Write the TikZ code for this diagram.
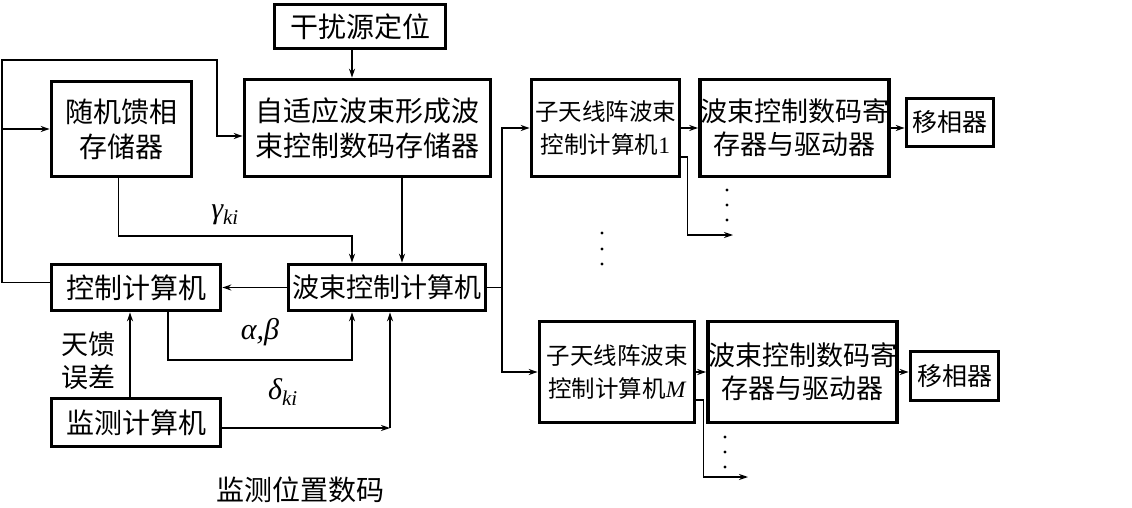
\documentclass[tikz,border=0pt]{standalone}
\usepackage{fontspec}
\usetikzlibrary{arrows.meta}
\setmainfont{Liberation Serif}
\newfontfamily\cjk{Noto Sans CJK SC}
\begin{document}
\begin{tikzpicture}[x=1pt,y=-1pt,>={Stealth[length=9pt,width=6pt,inset=3pt]},line width=1.3pt,
        blk/.style={draw,line width=3.6pt,inner sep=0pt,align=center,font=\cjk\fontsize{28}{35}\selectfont},
        lbl/.style={font=\rmfamily\itshape\fontsize{30}{34}\selectfont}]
    \useasboundingbox (0,0) rectangle (1132,508);
    % left part
    \node[blk,minimum width=171,minimum height=44] (jam) at (360,26.5) {干扰源定位};
    \node[blk,minimum width=140,minimum height=95] (rnd) at (121.5,129) {随机馈相\\存储器};
    \node[blk,minimum width=246,minimum height=97] (adp) at (367.5,128) {自适应波束形成波\\束控制数码存储器};
    \node[blk,minimum width=169,minimum height=46] (ctl) at (136,287.5) {控制计算机};
    \node[blk,minimum width=197,minimum height=46,font=\cjk\fontsize{27}{33}\selectfont] (bcc) at (387,287.5) {波束控制计算机};
    \node[blk,minimum width=169,minimum height=48] (mon) at (136,422.5) {监测计算机};
    % right part
    \node[blk,minimum width=148,minimum height=97,font=\cjk\fontsize{23.5}{33}\selectfont] (sub1) at (605.5,128) {子天线阵波束\\控制计算机{\rmfamily 1}};
    \node[blk,minimum width=172,minimum height=97,font=\cjk\fontsize{27}{33}\selectfont] (reg1) at (794.5,128) {波束控制数码寄\\存器与驱动器};
    \node[blk,minimum width=87,minimum height=48,font=\cjk\fontsize{25}{30}\selectfont] (ps1) at (950,122.5) {移相器};
    \node[blk,minimum width=155,minimum height=101,font=\cjk\fontsize{23.5}{33}\selectfont] (subM) at (617,372) {子天线阵波束\\控制计算机{\rmfamily\itshape M}};
    \node[blk,minimum width=176,minimum height=101,font=\cjk\fontsize{27}{33}\selectfont] (regM) at (802.5,372) {波束控制数码寄\\存器与驱动器};
    \node[blk,minimum width=88,minimum height=49,font=\cjk\fontsize{25}{30}\selectfont] (psM) at (954.5,376) {移相器};
    % labels
    \node[lbl] (gam) at (225,215) {γ\textsubscript{ki}};
    \node[lbl] (ab) at (260,332) {α,β};
    \node[lbl] (del) at (283,392) {δ\textsubscript{ki}};
    \node[font=\cjk\fontsize{27}{33}\selectfont,align=center] (err) at (88,361) {天馈\\误差};
    \node[font=\cjk\fontsize{28}{34}\selectfont] (pos) at (300,490) {监测位置数码};
    % corners
    \coordinate (lft) at (2,60);
    \coordinate (fb) at (217,60);
    \coordinate (xa) at (352,236);
    \coordinate (xb) at (402,0);
    \coordinate (ca) at (168,360);
    \coordinate (cb) at (352,360);
    \coordinate (tk) at (130,0);
    \coordinate (dk) at (390,428);
    \coordinate (sp) at (502,0);
    \coordinate (o1) at (733,235);
    \coordinate (oM) at (748,477);
    % connectors
    \draw[->] (jam.south -| xa) -- (adp.north -| xa);
    \draw[->] ([yshift=5pt]ctl.west) -| (lft) -- (fb) |- ([yshift=-8pt]adp.west);
    \draw[->] (lft |- rnd.west) -- (rnd.west);
    \draw[->] ([xshift=-3pt]rnd.south) |- (xa) -- (bcc.north -| xa);
    \draw[->] (adp.south -| xb) -- (bcc.north -| xb);
    \draw[->] (bcc.west) -- (ctl.east);
    \draw[->] (ctl.south -| ca) |- (cb) -- (bcc.south -| cb);
    \draw[->] (mon.north -| tk) -- (ctl.south -| tk);
    \draw[->] (mon.east |- dk) -- (dk);
    \draw[->] (dk) -- (bcc.south -| dk);
    \draw (bcc.east) -- (bcc.east -| sp);
    \draw[->] (bcc.east -| sp) |- (sub1.west);
    \draw[->] (bcc.east -| sp) |- (subM.west);
    \draw[->] (sub1.east) -- (reg1.west);
    \draw[->] (reg1.east) -- (reg1.east -| ps1.west);
    \draw[->] (subM.east) -- (regM.west);
    \draw[->] (regM.east) -- (regM.east -| psM.west);
    \draw[->] ([yshift=-29pt]sub1.east) -- ++(6,0) |- (o1);
    \draw[->] ([yshift=-28pt]subM.east) -- ++(7,0) |- (oM);
    % dots
    \foreach \y in {190,205,220} \fill (727,\y) circle (1.6pt);
    \foreach \y in {233,249,264} \fill (602,\y) circle (1.6pt);
    \foreach \y in {437,452,467} \fill (725,\y) circle (1.6pt);
\end{tikzpicture}
\end{document}
